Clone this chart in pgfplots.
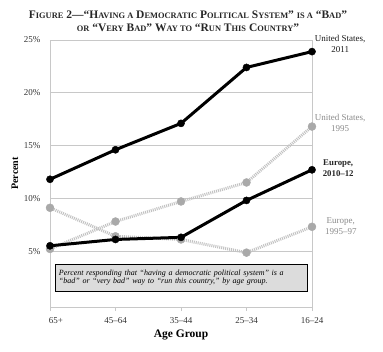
\documentclass[border=0pt]{standalone}
\usepackage{pgfplots}
\pgfplotsset{compat=1.18}
\usepackage{fontspec}
\setmainfont{Liberation Serif}
\definecolor{gridc}{HTML}{C8C8C8}
\definecolor{dotc}{HTML}{C2C2C2}
\definecolor{markc}{HTML}{A9A9A9}
\definecolor{lblgray}{HTML}{8A8A8A}
\definecolor{boxfill}{HTML}{DCDCDC}
\newcommand\SC[1]{{\fontsize{8.4}{10}\selectfont #1}}
\begin{document}
\begin{tikzpicture}
\path[use as bounding box] (0,0) rectangle (383pt,351pt);
\node[align=center, font=\fontsize{11.5}{13}\selectfont\bfseries, text=black!85] at (188pt,330pt)
{F\SC{IGURE} 2—“H\SC{AVING A} D\SC{EMOCRATIC} P\SC{OLITICAL} S\SC{YSTEM}” \SC{IS A} “B\SC{AD}”\\
\SC{OR} “V\SC{ERY} B\SC{AD}” W\SC{AY TO} “R\SC{UN} T\SC{HIS} C\SC{OUNTRY}”};
\begin{axis}[
  at={(50pt,44pt)}, anchor=south west,
  scale only axis, width=262pt, height=267pt,
  xmin=0, xmax=4, ymin=-0.3, ymax=25,
  xtick={0,1,2,3,4},
  xticklabels={{\hspace*{12pt}65+},45–64,35–44,25–34,16–24},
  ytick={5,10,15,20,25},
  yticklabels={5\%,10\%,15\%,20\%,25\%},
  ymajorgrids,
  grid style={gridc, line width=0.8pt},
  axis line style={gridc, line width=0.8pt},
  xtick style={gridc, line width=0.8pt},
  ytick style={draw=none},
  xtick pos=left, tick align=outside, major tick length=4pt,
  ticklabel style={font=\fontsize{9}{10}\selectfont, text=black!80},
  xticklabel style={yshift=-3pt},
  yticklabel style={xshift=-2pt},
  xlabel={Age Group},
  xlabel style={font=\fontsize{11.5}{13}\selectfont\bfseries, at={(axis description cs:0.5,-0.105)}, anchor=center},
  ylabel={Percent},
  ylabel style={font=\fontsize{10}{12}\selectfont\bfseries, at={(axis description cs:-0.134,0.5)}, anchor=center},
  clip=false,
]
% Europe 1995-97
\addplot[dotc, line width=3pt, dash pattern=on 1pt off 1pt, mark=*, mark size=4pt,
  mark options={solid, fill=markc, draw=markc, line width=0.4pt}] coordinates {(0,9.1)(1,6.4)(2,6.1)(3,4.85)(4,7.3)};
% United States 1995
\addplot[dotc, line width=3pt, dash pattern=on 1pt off 1pt, mark=*, mark size=4pt,
  mark options={solid, fill=markc, draw=markc, line width=0.4pt}] coordinates {(0,5.2)(1,7.8)(2,9.7)(3,11.5)(4,16.8)};
% Europe 2010-12
\addplot[black, line width=3pt, mark=*, mark size=3.6pt, mark options={solid, fill=black, line width=0.4pt}]
  coordinates {(0,5.5)(1,6.1)(2,6.3)(3,9.8)(4,12.7)};
% United States 2011
\addplot[black, line width=3pt, mark=*, mark size=3.6pt, mark options={solid, fill=black, line width=0.4pt}]
  coordinates {(0,11.8)(1,14.6)(2,17.1)(3,22.4)(4,23.9)};

\node[align=center, font=\fontsize{9}{11}\selectfont, text=black!90] at (axis cs:4.43,24.6) {United States,\\2011};
\node[align=center, font=\fontsize{9}{11}\selectfont, text=lblgray] at (axis cs:4.43,17.1) {United States,\\1995};
\node[align=center, font=\fontsize{8.8}{11}\selectfont\bfseries, text=black!85] at (axis cs:4.40,12.9) {Europe,\\2010–12};
\node[align=center, font=\fontsize{9}{11}\selectfont, text=lblgray] at (axis cs:4.44,7.4) {Europe,\\1995–97};

\node[draw=black, fill=boxfill, line width=0.8pt, text width=244pt, inner xsep=4pt, inner ysep=3pt,
  minimum height=27pt, align=left, font=\fontsize{8}{8.5}\selectfont\itshape]
  at (axis cs:2,2.5) {Percent responding that “having a democratic political system” is a\\“bad” or “very bad” way to “run this country,” by age group.};
\end{axis}
\end{tikzpicture}
\end{document}
